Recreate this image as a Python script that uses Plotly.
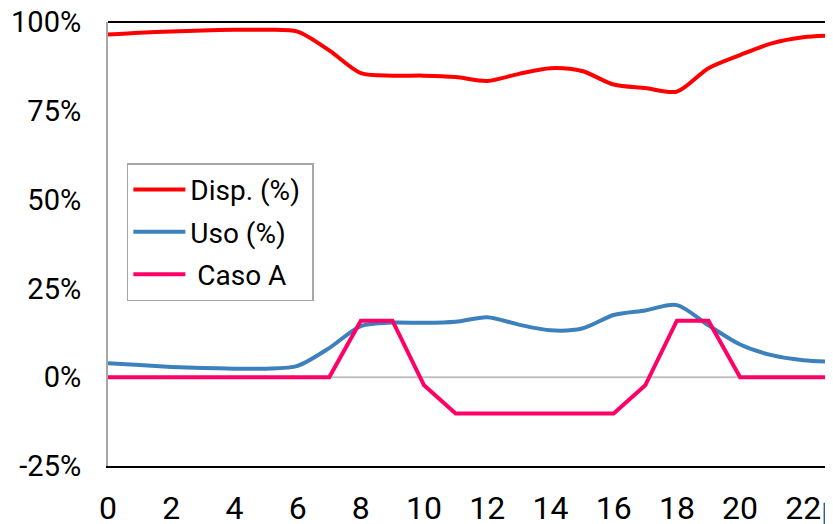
import plotly.graph_objects as go

hours = list(range(24))
disp = [96.5, 97.0, 97.3, 97.6, 97.8, 97.8, 97.3, 92.0, 85.6, 84.9, 84.9, 84.5, 83.4, 85.4, 87.0, 86.2,
        82.4, 81.4, 80.4, 87.0, 90.7, 94.0, 95.7, 96.2]
uso = [3.9, 3.4, 2.9, 2.6, 2.4, 2.4, 3.2, 8.2, 14.4, 15.4, 15.3, 15.6, 16.9, 14.8, 13.2, 13.7,
       17.5, 18.8, 20.3, 14.6, 9.2, 6.2, 4.8, 4.3]
caso_a = [0, 0, 0, 0, 0, 0, 0, 0, 15.9, 15.9, -2.3, -10.2, -10.2, -10.2, -10.2, -10.2,
          -10.2, -2.3, 15.9, 15.9, 0, 0, 0, 0]
y_ticks = [-25, 0, 25, 50, 75, 100]
x_ticks = list(range(0, 24, 2))

FONT = "Roboto, Liberation Sans, sans-serif"

fig = go.Figure()
fig.add_trace(go.Scatter(x=hours, y=disp, name="Disp. (%)\u00a0", mode="lines",
                         line=dict(color="#FF0000", width=4, shape="spline", smoothing=0.8),
                         legendgroup="a"))
fig.add_trace(go.Scatter(x=hours, y=uso, name="Uso (%)", mode="lines",
                         line=dict(color="#3C80BE", width=4, shape="spline", smoothing=0.8),
                         legendgroup="b"))
fig.add_trace(go.Scatter(x=hours, y=caso_a, name="\u00a0Caso A", mode="lines",
                         line=dict(color="#FF0066", width=4),
                         legendgroup="c"))

fig.add_shape(type="line", xref="paper", yref="y", x0=0, x1=1, y0=0, y1=0,
              line=dict(color="#C0C0C0", width=2), layer="below")
fig.add_shape(type="line", xref="paper", yref="paper", x0=0, x1=1, y0=1, y1=1,
              line=dict(color="#000000", width=2))
fig.add_shape(type="rect", xref="paper", yref="paper", x0=0.987, x1=1.0, y0=-0.083, y1=-0.135,
              line=dict(width=0), fillcolor="#2F5F8A")

fig.update_layout(
    width=825, height=516,
    margin=dict(l=100, r=0, t=14, b=58, autoexpand=False),
    paper_bgcolor="white", plot_bgcolor="white",
    font=dict(family=FONT, size=29, color="#000000"),
    showlegend=True,
    legend=dict(x=0.026, y=0.682, xanchor="left", yanchor="top",
                bordercolor="#A6A6A6", borderwidth=1.5, bgcolor="white",
                font=dict(family=FONT, size=28, color="#000000"),
                tracegroupgap=3, itemwidth=52),
    xaxis=dict(range=[0, 22.94], tickvals=x_ticks, ticktext=[str(v) for v in x_ticks],
               tickfont=dict(size=32), ticklabeloverflow="allow",
               showgrid=False, zeroline=False, showline=True, linecolor="#000000", linewidth=2,
               ticks="", ticklabelstandoff=13, fixedrange=True, automargin=False),
    yaxis=dict(range=[-25, 100], tickvals=y_ticks, ticktext=[f"{v}%" for v in y_ticks],
               ticklabeloverflow="allow",
               showgrid=False, zeroline=False, showline=True, linecolor="#A6A6A6", linewidth=2,
               ticks="", ticklabelstandoff=19, fixedrange=True, automargin=False),
)

fig.write_html("out.html")
